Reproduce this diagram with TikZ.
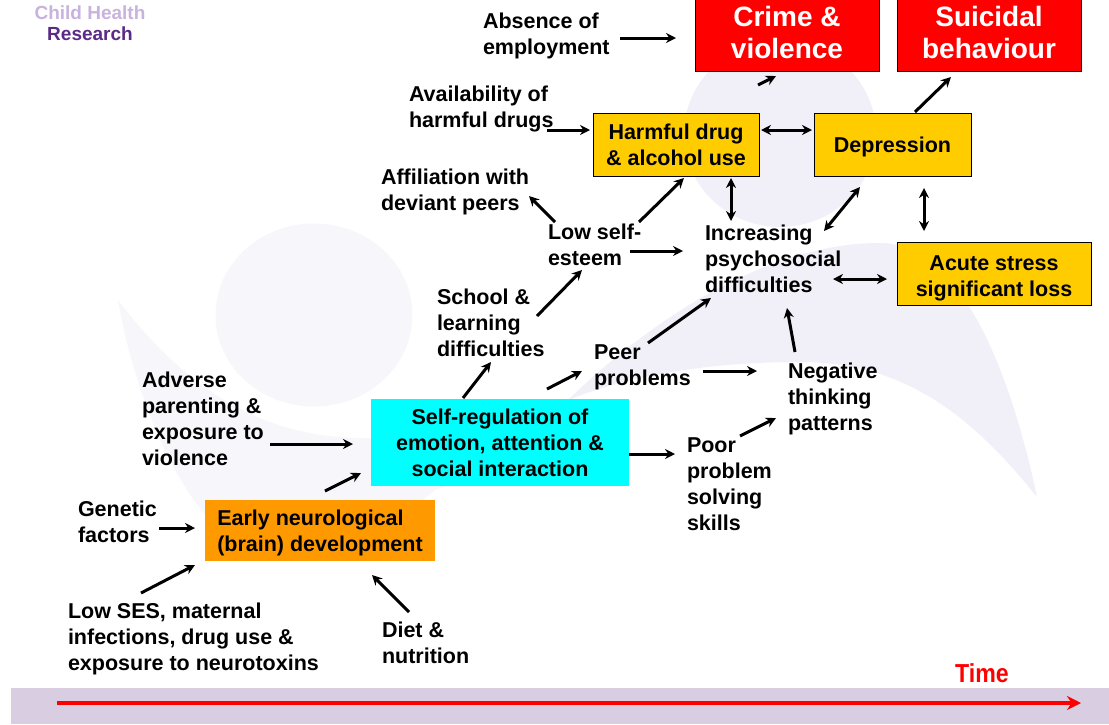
\documentclass[tikz,border=0pt]{standalone}
\usepackage{xcolor}
\usepackage{fontspec}
\setmainfont{Liberation Sans}
\usetikzlibrary{arrows.meta,positioning}

\definecolor{figurepale}{HTML}{F7F6FB}
\definecolor{figuredeep}{HTML}{F1EFF7}
\definecolor{bandlilac}{HTML}{D9CDE2}
\definecolor{boxgold}{HTML}{FFCC00}
\definecolor{boxorange}{HTML}{FF9900}
\definecolor{boxcyan}{HTML}{00FFFF}
\definecolor{boxred}{HTML}{FF0000}
\definecolor{logolight}{HTML}{C9B3DD}
\definecolor{logodark}{HTML}{5B2A86}

\begin{document}
\begin{tikzpicture}[x=1pt, y=-1pt, >={Stealth[length=10pt,width=10pt]},
    textlabel/.style={anchor=west, align=left, inner sep=0pt, outer sep=0pt, text depth=0pt, font=\bfseries\fontsize{21.5}{26}\selectfont},
    goldbox/.style={rectangle, draw, line width=1pt, fill=boxgold, inner sep=0pt, outer sep=0pt, align=center, text depth=0pt, minimum height=63pt, font=\bfseries\fontsize{21.5}{26}\selectfont},
    redbox/.style={rectangle, draw, line width=1pt, fill=boxred, text=white, inner sep=0pt, outer sep=0pt, align=center, text depth=2pt, minimum width=184pt, minimum height=76pt, font=\bfseries\fontsize{28}{32}\selectfont},
    plainbox/.style={rectangle, inner sep=0pt, outer sep=0pt, text depth=0pt, font=\bfseries\fontsize{21.5}{26}\selectfont},
    link/.style={line width=3pt}]
    \useasboundingbox (0,0) rectangle (1109,724);
    \fill [white] (0,0) rectangle (1109,724);
    \fill [figurepale] (314,315) ellipse [x radius=98.5, y radius=91.5];
    \fill [figuredeep] (780,134) ellipse [x radius=96, y radius=93];
    \fill [figurepale] (118,300) .. controls (190,395) and (270,440) .. (371,438)
        .. controls (440,436) and (510,430) .. (568,400)
        .. controls (530,440) and (480,475) .. (435,490)
        .. controls (380,540) and (250,560) .. (204,513)
        .. controls (160,460) and (130,370) .. (118,300) -- cycle;
    \fill [figuredeep] (568,400) .. controls (640,330) and (760,243) .. (880,243)
        .. controls (960,243) and (1010,370) .. (1037,497)
        .. controls (960,400) and (890,362) .. (800,362)
        .. controls (710,362) and (630,375) .. (568,400) -- cycle;
    \fill [bandlilac] (11,688) rectangle (1109,724);

    \node (logoa) [text=logolight, inner sep=0pt, font=\bfseries\fontsize{19}{22}\selectfont] at (90,13) {Child Health};
    \node (logob) [text=logodark, inner sep=0pt, below=6pt of logoa, font=\bfseries\fontsize{19}{22}\selectfont] {Research};

    \node (crime) [redbox] at (787,33) {Crime \&\\violence};
    \node (suicidal) [redbox, right=18pt of crime] {Suicidal\\behaviour};
    \node (drugs) [goldbox, below=42pt of crime, xshift=-111pt, minimum width=166pt] {Harmful drug\\\& alcohol use};
    \node (depression) [goldbox, right=55pt of drugs, minimum width=157pt] {Depression};
    \node (acute) [goldbox, below=66pt of depression, xshift=101.5pt, minimum width=194pt, text height=46pt] {Acute stress\\significant loss};
    \node (selfreg) [plainbox, below=223pt of drugs, xshift=-176pt, fill=boxcyan, align=center, minimum width=258pt, minimum height=87pt] {Self-regulation of\\emotion, attention \&\\social interaction};
    \node (early) [plainbox, below=14pt of selfreg, xshift=-180pt, fill=boxorange, align=left, minimum width=230pt, minimum height=61pt] {Early neurological\\(brain) development};

    \node (absence) [left=212pt of crime.west, yshift=-1pt, textlabel] {Absence of\\employment};
    \node (avail) [left=184pt of drugs.west, yshift=37.5pt, textlabel] {Availability of\\harmful drugs};
    \node (affil) [left=212pt of drugs.west, yshift=-45.5pt, textlabel] {Affiliation with\\deviant peers};
    \node (lowself) [left=45pt of drugs.west, yshift=-100.5pt, textlabel] {Low self-\\esteem};
    \node (increasing) [right=112pt of drugs.west, yshift=-114.5pt, textlabel] {Increasing\\psychosocial\\difficulties};
    \node (school) [right=66pt of selfreg.west, yshift=119.5pt, textlabel] {School \&\\learning\\difficulties};
    \node (peer) [right=223pt of selfreg.west, yshift=77.5pt, textlabel] {Peer\\problems};
    \node (negative) [right=159pt of selfreg.east, yshift=45.5pt, textlabel] {Negative\\thinking\\patterns};
    \node (poor) [right=58pt of selfreg.east, yshift=-41.5pt, textlabel] {Poor\\problem\\solving\\skills};
    \node (adverse) [left=229pt of selfreg.west, yshift=23.5pt, textlabel] {Adverse\\parenting \&\\exposure to\\violence};
    \node (genetic) [left=127pt of early.west, yshift=8.5pt, textlabel] {Genetic\\factors};
    \node (lowses) [left=137pt of early.west, yshift=-106.5pt, textlabel] {Low SES, maternal\\infections, drug use \&\\exposure to neurotoxins};
    \node (diet) [right=177pt of early.west, yshift=-112pt, textlabel] {Diet \&\\nutrition};
    \node (timelabel) [text=boxred, inner sep=0pt, xscale=.89, transform shape, font=\bfseries\fontsize{26}{28}\selectfont] at (982,673) {Time};

    \coordinate (timestart) at (57,703);
    \coordinate (timeend) at (1081,703);

    \draw [link, ->] ([shift={(137,4)}]absence.west) -- ([shift={(-19,5)}]crime.west);
    \draw [link, ->] ([shift={(165,-59.5)}]drugs.west) -- ([shift={(81,43)}]crime.west);
    \draw [link, ->] ([shift={(101,-32.5)}]depression.west) -- ([shift={(54,44)}]suicidal.west);
    \draw [link, ->] ([shift={(138,23)}]avail.west) -- ([shift={(-3,-14.5)}]drugs.west);
    \draw [link, <->] ([shift={(168,-14.5)}]drugs.west) -- ([shift={(-2,-14.5)}]depression.west);
    \draw [link, <->] ([shift={(138,33.5)}]drugs.west) -- ([shift={(26,-38)}]increasing.west);
    \draw [link, ->] ([shift={(91,-23)}]lowself.west) -- ([shift={(91,33.5)}]drugs.west);
    \draw [link, ->] ([shift={(7,-23)}]lowself.west) -- ([shift={(148,6)}]affil.west);
    \draw [link, <->] ([shift={(46,42.5)}]depression.west) -- ([shift={(119,-28)}]increasing.west);
    \draw [link, <->] ([shift={(110,43.5)}]depression.west) -- ([shift={(27,-42.5)}]acute.west);
    \draw [link, ->] ([shift={(82,6)}]lowself.west) -- ([shift={(-22,-8)}]increasing.west);
    \draw [link, ->] ([shift={(100,-7)}]school.west) -- ([shift={(34,25)}]lowself.west);
    \draw [link, <->] ([shift={(128,20)}]increasing.west) -- ([shift={(-10,5.5)}]acute.west);
    \draw [link, ->] ([shift={(92,-44.5)}]selfreg.west) -- ([shift={(54,39)}]school.west);
    \draw [link, ->] ([shift={(176,-53.5)}]selfreg.west) -- ([shift={(-12,6)}]peer.west);
    \draw [link, ->] ([shift={(54,-22)}]peer.west) -- ([shift={(6,39)}]increasing.west);
    \draw [link, ->] ([shift={(109,6)}]peer.west) -- ([shift={(-31,-26)}]negative.west);
    \draw [link, ->] ([shift={(7,-45)}]negative.west) -- ([shift={(82,49)}]increasing.west);
    \draw [link, ->] ([shift={(53,-48)}]poor.west) -- ([shift={(-12,21)}]negative.west);
    \draw [link, ->] ([shift={(258,11.5)}]selfreg.west) -- ([shift={(-12,-30)}]poor.west);
    \draw [link, ->] ([shift={(128,25)}]adverse.west) -- ([shift={(-18,1.5)}]selfreg.west);
    \draw [link, ->] ([shift={(120,-39.5)}]early.west) -- ([shift={(-10,30.5)}]selfreg.west);
    \draw [link, ->] ([shift={(81,6)}]genetic.west) -- ([shift={(-10,-2.5)}]early.west);
    \draw [link, ->] ([shift={(73,-44)}]lowses.west) -- ([shift={(-10,34.5)}]early.west);
    \draw [link, ->] ([shift={(27,-30.5)}]diet.west) -- ([shift={(167,44.5)}]early.west);
    \draw [line width=4.5pt, boxred, -{Stealth[length=14pt,width=14pt]}] (timestart) -- (timeend);
\end{tikzpicture}
\end{document}
